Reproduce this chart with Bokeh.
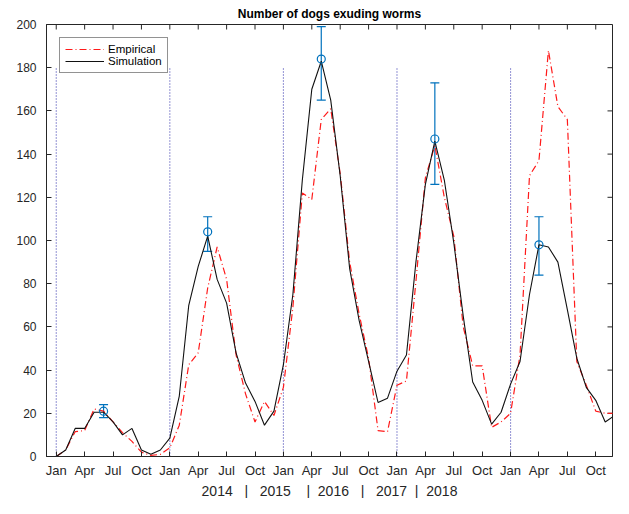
import math
from bokeh.plotting import figure
from bokeh.models import (FixedTicker, Range1d, Legend, LegendItem, Title,
                          Whisker, TeeHead, ColumnDataSource)
from bokeh.embed import file_html
from bokeh.resources import INLINE

# ---------------- data ----------------
month_index = list(range(60))          # Jan 2013 .. Dec 2017 (monthly)
month_names = ["Jan", "Apr", "Jul", "Oct"]
tick_positions = list(range(0, 60, 3))
tick_labels = [month_names[(t // 3) % 4] for t in tick_positions]
jan_positions = [0, 12, 24, 36, 48]
divider_top = 180
NB = "\u00a0"
year_text = ("2014" + NB * 3 + "|" + NB * 3 + "2015" + NB * 4 + "|" + NB * 2 +
             "2016" + NB * 3 + "|" + NB * 3 + "2017" + NB * 2 + "|" + NB * 2 + "2018")
y_ticks = list(range(0, 201, 20))

empirical = [0, 3, 11.5, 12, 22, 21, 16, 11, 7, 2, 0.5, 1,
             4, 14.5, 42.5, 48, 78, 97, 82, 47, 29, 16, 25.5, 19,
             32, 69, 122, 119, 156, 161, 131, 90, 66, 45.5, 12, 11.5,
             33, 35, 81, 129, 144, 120, 102, 60, 42, 42, 13.5, 16,
             20, 47, 130, 137, 188, 162, 156, 44, 33, 21, 20, 20]

simulation = [0, 3, 13, 13, 20.5, 20.5, 16, 10, 13, 3, 1, 3,
              8.5, 28, 70, 88, 102, 82, 71, 48, 34, 25.5, 14.5, 21,
              42.5, 75, 128, 170, 183, 165, 130, 87, 63, 44, 25, 27,
              39.5, 47, 90, 126, 146, 128, 99, 65, 34.5, 26, 15, 20.5,
              33.5, 44, 75, 98, 97, 90, 68, 45.5, 32, 26, 16, 19]

err_month = [5, 16, 28, 40, 51]
err_mean = [21, 104, 184, 147, 98]
err_low = [18, 95, 165, 126, 84]
err_high = [24, 111, 199, 173, 111]

X_START, X_END = -1.03, 58.77
Y_START, Y_END = 0, 200

# ---------------- styling ----------------
FONT = "Liberation Sans"
AX = "#262626"
BLUE = "#0072BD"

p = figure(width=613, height=498, output_backend="svg", toolbar_location=None,
           x_range=Range1d(X_START, X_END), y_range=Range1d(Y_START, Y_END),
           min_border_left=46, min_border_right=1, min_border_top=0,
           min_border_bottom=0)
p.title.text = "Number of dogs exuding worms"
p.title.text_font = FONT
p.title.text_font_size = "12px"
p.title.text_font_style = "bold"
p.title.align = "center"
p.title.standoff = 8
p.title.text_color = "#000000"

p.xgrid.visible = False
p.ygrid.visible = False
p.outline_line_color = AX
p.outline_line_width = 1

for ax in (p.xaxis[0], p.yaxis[0]):
    ax.major_tick_in = 5
    ax.major_tick_out = 0
    ax.minor_tick_line_color = None
    ax.axis_line_color = AX
    ax.major_tick_line_color = AX
    ax.major_label_text_font = FONT
    ax.major_label_text_color = AX

xa = p.xaxis[0]
xa.ticker = FixedTicker(ticks=tick_positions)
xa.major_label_overrides = {t: l for t, l in zip(tick_positions, tick_labels)}
xa.major_label_text_font_size = "13px"
xa.major_label_standoff = 6
xa.axis_label_standoff = 0

ya = p.yaxis[0]
ya.ticker = FixedTicker(ticks=y_ticks)
ya.major_label_text_font_size = "12px"
ya.major_label_standoff = 10

# inward ticks on the top and right edges of the box
p.ray(x=tick_positions, y=[Y_END] * len(tick_positions), length=5,
      length_units="screen", angle=-math.pi / 2, line_color=AX, line_width=1)
p.ray(x=[X_END] * len(y_ticks), y=y_ticks, length=5,
      length_units="screen", angle=math.pi, line_color=AX, line_width=1)

# year dividers
p.segment(x0=jan_positions, y0=[0] * len(jan_positions),
          x1=jan_positions, y1=[divider_top] * len(jan_positions),
          line_color="#3a3ab0", line_dash="1 2", line_width=1.1)

r_emp = p.line(month_index, empirical, line_color="#ff1a1a", line_width=1.2,
               line_dash="7 3 1 3")
r_sim = p.line(month_index, simulation, line_color="#111111", line_width=1.1)

# error bars
src = ColumnDataSource(dict(x=err_month, y=err_mean, lo=err_low, hi=err_high))
wh = Whisker(source=src, base="x", upper="hi", lower="lo",
             line_color=BLUE, line_width=1.2,
             upper_head=TeeHead(size=9, line_color=BLUE, line_width=1.2),
             lower_head=TeeHead(size=9, line_color=BLUE, line_width=1.2))
p.add_layout(wh)
p.scatter("x", "y", source=src, marker="circle", size=8, fill_color=None,
          line_color=BLUE, line_width=1.2)

# year row under the month labels
year_title = Title(text=year_text, align="center", text_font=FONT,
                   text_font_size="14px", text_font_style="normal",
                   text_color=AX, standoff=0, offset=3)
p.add_layout(year_title, "below")

legend = Legend(items=[LegendItem(label="Empirical", renderers=[r_emp]),
                       LegendItem(label="Simulation", renderers=[r_sim])],
                location="top_left", margin=13, padding=5, spacing=0,
                glyph_width=39, glyph_height=12, label_height=12,
                label_standoff=4, label_text_font=FONT,
                label_text_font_size="11.5px", label_text_color="#000000",
                border_line_color=AX, border_line_width=1,
                background_fill_color="white", background_fill_alpha=1)
p.add_layout(legend, "center")

open("out.html", "w").write(file_html(p, INLINE))
